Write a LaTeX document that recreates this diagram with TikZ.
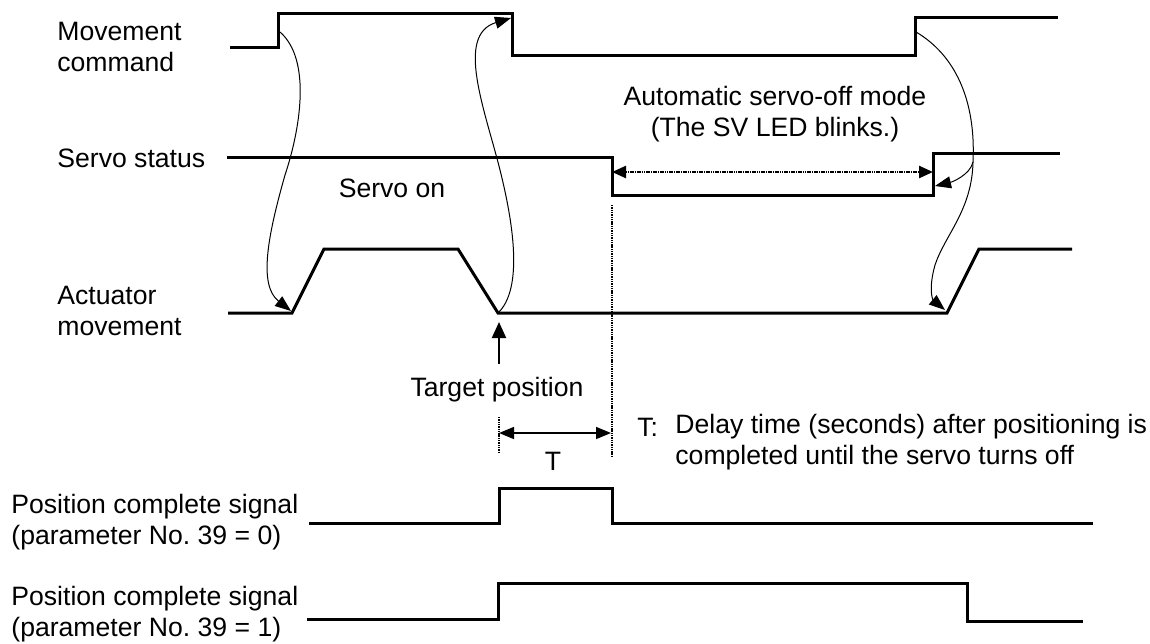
\documentclass[tikz,border=0pt]{standalone}
\usepackage{fontspec}
\setmainfont{Liberation Sans}
\usetikzlibrary{arrows.meta}
\frenchspacing
\begin{document}
\begin{tikzpicture}[x=0.5pt,y=-0.5pt,
  every node/.style={font=\fontsize{13.3}{15.5}\selectfont, inner sep=0pt},
  wave/.style={line width=1.5pt, line join=miter},
  curv/.style={line width=0.5pt, -{Triangle[length=8pt,width=6pt]}},
  dimarrow/.style={line width=0.75pt, {Triangle[length=7.5pt,width=6pt]}-{Triangle[length=7.5pt,width=6pt]}},
  modearrow/.style={line width=1.2pt, dash pattern=on 0.8pt off 0.35pt, {Triangle[length=7pt,width=6pt]}-{Triangle[length=7pt,width=6pt]}},
  guide/.style={line width=0.75pt, dash pattern=on 0.7pt off 0.45pt},
  lbl/.style={anchor=west, align=left}]
\useasboundingbox (0,0) rectangle (1150,643);

% labels
\node[lbl] (lmc) at (57,46.5) {Movement\\command};
\node[lbl] (lss) at (57,158) {Servo status};
\node[lbl] (lam) at (57,311) {Actuator\\movement};
\node[lbl] (lp0) at (11,522.5) {Position complete signal\\(parameter No. 39 = 0)};
\node[lbl] (lp1) at (11,614) {Position complete signal\\(parameter No. 39 = 1)};
\node (son) at (392,188) {Servo on};
\node[align=center] (amode) at (775,114) {Automatic servo-off mode\\(The SV LED blinks.)};
\node (tpos) at (497,390) {Target position};
\node (tlab) at (553,461) {T};
\node[anchor=west] (tcol) at (637,427) {T:};
\node[lbl] (tdesc) at (675,442) {Delay time (seconds) after positioning is\\completed until the servo turns off};

% movement command
\coordinate (m0) at (230,47); \coordinate (m1) at (278,47); \coordinate (m2) at (278,13);
\coordinate (m3) at (512,13); \coordinate (m4) at (512,55); \coordinate (m5) at (915,55);
\coordinate (m6) at (915,17); \coordinate (m7) at (1058,17);
\draw[wave] (m0) -- (m1) -- (m2) -- (m3) -- (m4) -- (m5) -- (m6) -- (m7);

% servo status
\coordinate (s0) at (227,157); \coordinate (s1) at (612,157); \coordinate (s2) at (612,195);
\coordinate (s3) at (933,195); \coordinate (s4) at (933,153); \coordinate (s5) at (1060,153);
\draw[wave] (s0) -- (s1) -- (s2) -- (s3) -- (s4) -- (s5);

% actuator movement
\coordinate (a0) at (228,313); \coordinate (a1) at (292,313); \coordinate (a2) at (324,249);
\coordinate (a3) at (458,249); \coordinate (a4) at (498,313); \coordinate (a5) at (947,313);
\coordinate (a6) at (979,249); \coordinate (a7) at (1072,249);
\draw[wave] (a0) -- (a1) -- (a2) -- (a3) -- (a4) -- (a5) -- (a6) -- (a7);

% position complete signal 0
\coordinate (p00) at (309,523); \coordinate (p01) at (499,523); \coordinate (p02) at (499,488);
\coordinate (p03) at (612,488); \coordinate (p04) at (612,523); \coordinate (p05) at (1093,523);
\draw[wave] (p00) -- (p01) -- (p02) -- (p03) -- (p04) -- (p05);

% position complete signal 1
\coordinate (p10) at (307,619); \coordinate (p11) at (498,619); \coordinate (p12) at (498,583);
\coordinate (p13) at (967,583); \coordinate (p14) at (967,621); \coordinate (p15) at (1083,621);
\draw[wave] (p10) -- (p11) -- (p12) -- (p13) -- (p14) -- (p15);

% causal curves
\coordinate (cA0) at (280,32); \coordinate (cAm) at (285,175); \coordinate (cA1) at (291,311);
\draw[curv] (cA0) .. controls (312,60) and (300,130) .. (cAm) .. controls (268,235) and (258,285) .. (cA1);
\coordinate (cB0) at (498,313); \coordinate (cBm) at (500,170); \coordinate (cB1) at (511,18);
\draw[curv] (cB0) .. controls (522,290) and (515,230) .. (cBm) .. controls (485,110) and (455,35) .. (cB1);
\coordinate (cC0) at (916,32); \coordinate (cCm) at (973,162);
\coordinate (cC1) at (935,186); \coordinate (cCn) at (935,265); \coordinate (cC2) at (945,310);
\draw[line width=0.5pt] (cC0) .. controls (955,55) and (976,100) .. (cCm);
\draw[curv] (cCm) .. controls (970,175) and (952,182) .. (cC1);
\draw[line width=0.5pt] (cCm) .. controls (972,210) and (945,235) .. (cCn);
\draw[curv] (cCn) .. controls (928,290) and (933,300) .. (cC2);

% servo-off mode arrow
\coordinate (md0) at (612,172); \coordinate (md1) at (933,172);
\draw[modearrow] (md0) -- (md1);

% guides and T dimension
\coordinate (g0) at (612,205); \coordinate (g1) at (612,457);
\draw[guide] (g0) -- (g1);
\coordinate (g2) at (499,417); \coordinate (g3) at (499,453);
\draw[guide] (g2) -- (g3);
\coordinate (t0) at (499,433); \coordinate (t1) at (611,433);
\draw[dimarrow] (t0) -- (t1);

% target position arrow
\coordinate (ta0) at (499,364); \coordinate (ta1) at (499,322);
\draw[line width=1pt, -{Triangle[length=8pt,width=7pt]}] (ta0) -- (ta1);
\end{tikzpicture}
\end{document}
